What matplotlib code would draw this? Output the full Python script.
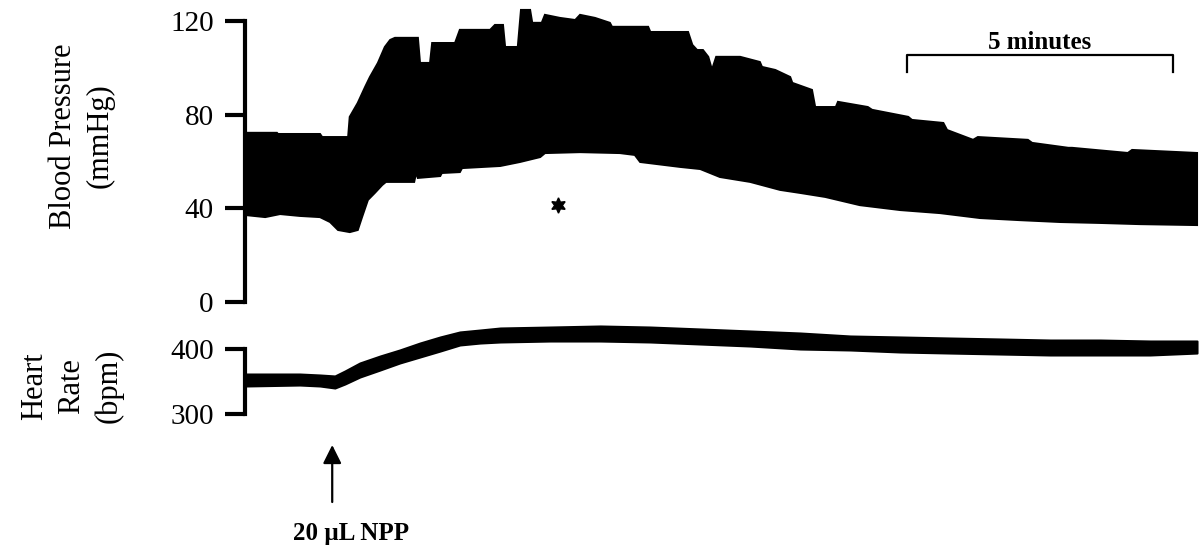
import numpy as np
import matplotlib
matplotlib.use("Agg")
import matplotlib.pyplot as plt

plt.rcParams['font.family'] = ['Liberation Serif', 'DejaVu Serif']

# ---------------- data (time in minutes) ----------------
sys_t = [0.00, 0.60, 0.62, 1.41, 1.45, 1.94, 1.97, 2.12, 2.26, 2.35, 2.50, 2.63, 2.73, 2.82,
         3.25, 3.29, 3.48, 3.52, 3.95, 4.04, 4.61, 4.70, 4.85, 4.89, 5.13, 5.19, 5.36, 5.40,
         5.58, 5.64, 5.92, 6.21, 6.30, 6.58, 6.86, 6.90, 7.58, 7.62, 8.33, 8.41, 8.50, 8.61,
         8.71, 8.78, 8.86, 9.31, 9.68, 9.72, 9.97, 10.25, 10.29, 10.66, 10.72, 11.11, 11.15,
         11.71, 11.79, 12.47, 12.54, 13.13, 13.20, 13.69, 13.78, 14.72, 14.80, 15.48, 15.55,
         16.60, 16.68, 17.90]
sys_bp = [72.2, 72.2, 71.7, 71.7, 70.4, 70.4, 79.0, 84.9, 91.8, 96.0, 102.0, 108.8, 111.8, 112.7,
          112.7, 102.0, 102.0, 110.5, 110.5, 116.1, 116.1, 118.2, 118.2, 108.8, 108.8, 124.6, 124.6, 119.1,
          119.1, 122.5, 121.2, 120.3, 122.5, 121.2, 119.1, 117.4, 117.4, 115.2, 115.2, 109.7, 107.5, 107.5,
          104.6, 99.0, 104.6, 104.6, 102.4, 100.3, 99.0, 96.0, 93.5, 90.5, 83.2, 83.2, 85.4,
          83.2, 82.0, 79.0, 77.7, 76.4, 73.4, 69.2, 70.4, 69.2, 67.9, 65.8, 65.8,
          63.6, 64.9, 63.6]

dia_t = [0.00, 0.38, 0.66, 1.03, 1.41, 1.60, 1.75, 1.97, 2.12, 2.20, 2.31, 2.44, 2.58, 2.65,
         3.18, 3.22, 3.25, 3.67, 3.70, 4.04, 4.08, 4.80, 5.17, 5.55, 5.64, 6.30, 7.05, 7.33,
         7.43, 8.18, 8.56, 8.93, 9.50, 10.06, 10.44, 10.91, 11.56, 12.32, 13.07, 13.82, 14.57,
         15.33, 16.08, 16.83, 17.90]
dia_bp = [37.2, 36.3, 37.6, 36.8, 36.3, 34.2, 30.8, 29.9, 30.8, 36.3, 43.6, 46.6, 50.0, 51.3,
          51.3, 55.5, 53.0, 53.8, 55.1, 55.5, 57.2, 58.1, 59.8, 61.9, 63.6, 64.0, 63.6, 62.8,
          59.8, 57.7, 56.8, 53.4, 51.3, 47.9, 46.6, 44.9, 41.4, 39.3, 38.0, 35.9, 35.0,
          34.2, 33.8, 33.3, 32.9]

hr_t = [0.00, 1.03, 1.41, 1.69, 1.88, 2.16, 2.54, 2.91, 3.29, 3.67, 4.04, 4.42, 4.80, 5.74,
        6.68, 7.62, 8.56, 9.50, 10.44, 11.38, 12.32, 13.26, 14.20, 15.14, 16.08, 17.02, 17.90]
hr_upper = [361.5, 361.5, 360.0, 358.5, 366.2, 378.5, 389.2, 398.5, 409.2, 418.5, 426.2, 429.2,
            432.3, 433.8, 435.4, 433.8, 430.8, 427.7, 424.6, 420.0, 418.5, 416.9, 415.4, 413.8,
            413.8, 412.3, 412.3]
hr_lower = [343.1, 344.6, 343.1, 340.0, 346.2, 356.9, 367.7, 378.5, 387.7, 396.9, 406.2, 409.2,
            410.8, 412.3, 412.3, 410.8, 407.7, 404.6, 400.0, 398.5, 395.4, 393.8, 392.3, 390.8,
            390.8, 390.8, 393.8]

bp_ticks = [0, 40, 80, 120]
hr_ticks = [300, 400]
injection_time = 1.64
asterisk_time, asterisk_bp = 5.89, 41.5
scale_start, scale_len = 12.45, 5.0

# ---------------- figure ----------------
W, H = 1199, 551
fig = plt.figure(figsize=(W / 100, H / 100), dpi=100)


def px_axes(x0, x1, ytop, ybot):
    return fig.add_axes([x0 / W, 1 - ybot / H, (x1 - x0) / W, (ybot - ytop) / H])


ax_bp = px_axes(245, 1197, 2.0, 313.9)
ax_hr = px_axes(245, 1197, 323.0, 427.0)

for ax in (ax_bp, ax_hr):
    ax.set_xlim(0, 17.9)
    for s in ('top', 'right', 'bottom'):
        ax.spines[s].set_visible(False)
    ax.spines['left'].set_linewidth(3)
    ax.xaxis.set_visible(False)
    ax.tick_params(axis='y', direction='out', length=14.5, width=3, pad=8, labelsize=21)
    ax.patch.set_alpha(0)

ax_bp.set_ylim(-5, 128)
ax_bp.set_yticks(bp_ticks)
ax_bp.spines['left'].set_bounds(0, 120)

ax_hr.set_ylim(280, 440)
ax_hr.set_yticks(hr_ticks)
ax_hr.spines['left'].set_bounds(300, 400)

# Blood pressure band
poly_t = np.concatenate([sys_t, dia_t[::-1]])
poly_v = np.concatenate([sys_bp, dia_bp[::-1]])
ax_bp.fill(poly_t, poly_v, color='black', lw=1.5, edgecolor='black', clip_on=False)

# Heart rate band
ax_hr.fill_between(hr_t, hr_lower, hr_upper, color='black', lw=1.5, edgecolor='black',
                   clip_on=False)

# asterisk
ax_bp.plot([asterisk_time], [asterisk_bp], marker=(6, 1, 0), ms=11,
           color='black', clip_on=False)

# 5 minute scale bar
sb_x = [scale_start, scale_start, scale_start + scale_len, scale_start + scale_len]
sb_y = [98.2, 105.4, 105.4, 98.2]
ax_bp.plot(sb_x, sb_y, color='black', lw=1.6, clip_on=False)
ax_bp.text(scale_start + scale_len / 2, 106.0, '5 minutes', ha='center', va='bottom',
           fontsize=18, fontweight='bold')

# injection arrow
ax_hr.annotate('', xy=(injection_time, 252.3), xytext=(injection_time, 164.6),
               arrowprops=dict(arrowstyle='-|>', lw=1.6, color='black',
                               mutation_scale=28, shrinkA=0, shrinkB=0),
               annotation_clip=False)
ax_hr.text(1.99, 116.9, '20 µL NPP', ha='center', va='center', fontsize=18,
           fontweight='bold', clip_on=False)

# axis labels
fig.text(82 / W, 1 - 136 / H, 'Blood Pressure\n(mmHg)', rotation=90, ha='center',
         va='center', multialignment='center', fontsize=22, linespacing=1.35)
fig.text(72 / W, 1 - 386 / H, 'Heart\nRate\n(bpm)', rotation=90, ha='center',
         va='center', multialignment='center', fontsize=22, linespacing=1.35)

fig.savefig('out.png', dpi=100)
